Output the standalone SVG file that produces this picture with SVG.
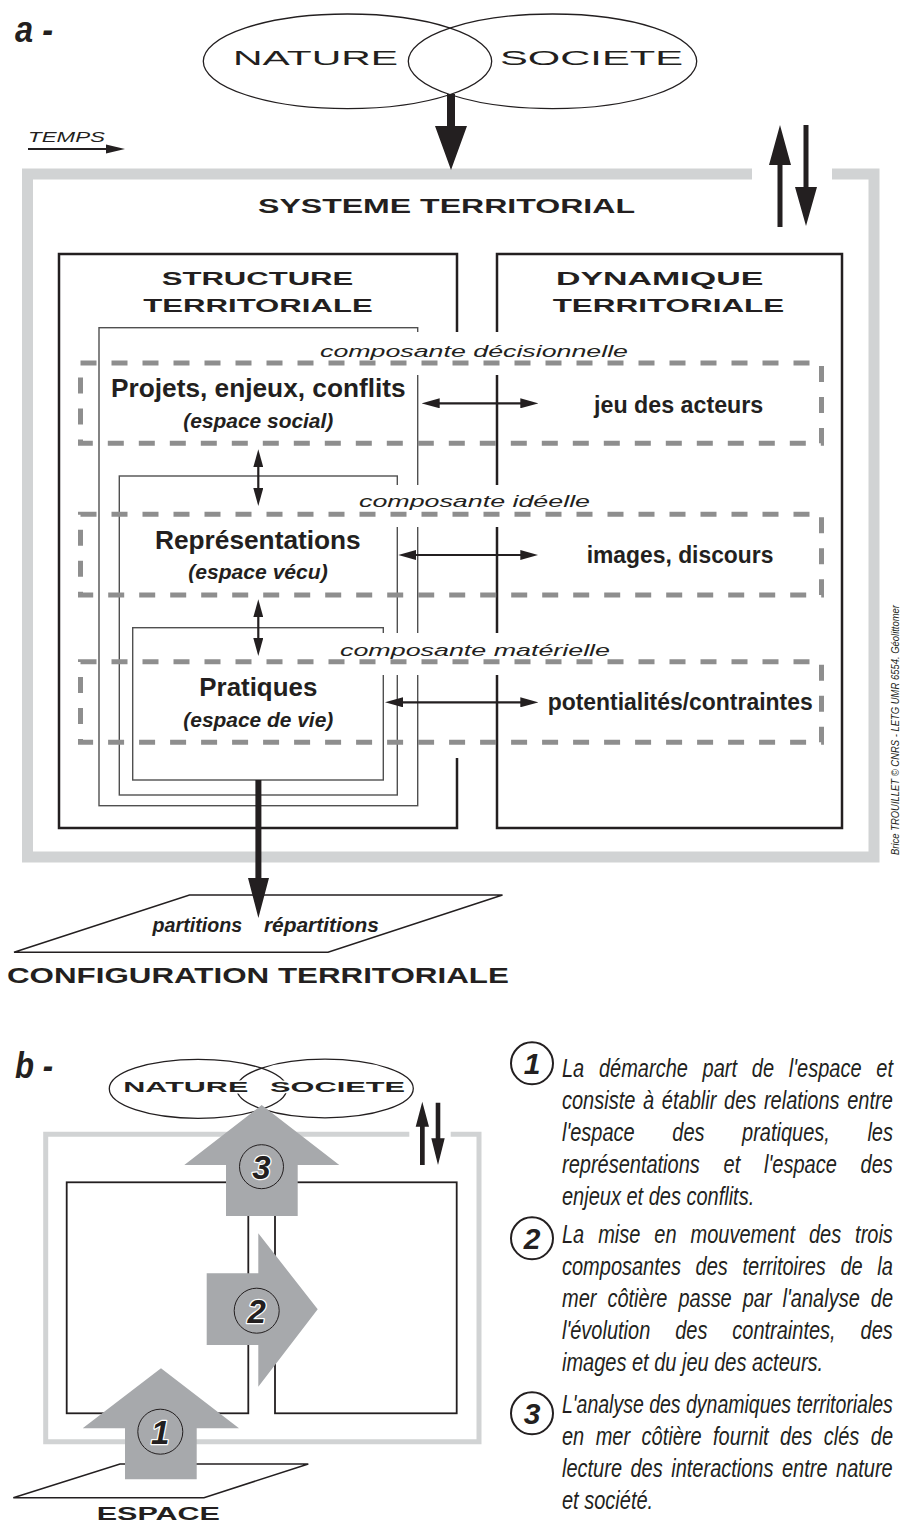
<svg xmlns="http://www.w3.org/2000/svg" width="900" height="1524" viewBox="0 0 900 1524">
<defs>
<style>
text { font-family: "Liberation Sans", Arial, Helvetica, sans-serif; fill:#231f20; }
.b { font-weight:bold; }
.i { font-style:italic; }
.frameA { fill:none; stroke:#d1d3d4; stroke-width:11; }
.frameB { fill:none; stroke:#d1d3d4; stroke-width:5; }
.box { fill:none; stroke:#231f20; stroke-width:2.5; }
.boxb { fill:none; stroke:#231f20; stroke-width:1.8; }
.thin { fill:none; stroke:#505050; stroke-width:1.4; }
.dash { fill:none; stroke:#8e8e8e; stroke-width:5; stroke-dasharray:16 15; }
.ell { fill:none; stroke:#231f20; stroke-width:1.3; }
.arr { fill:none; stroke:#231f20; stroke-width:2.2; marker-start:url(#ah); marker-end:url(#ah); }
.blk { fill:#231f20; }
.gray { fill:#a7a9ac; }
.halo { stroke:#ffffff; stroke-width:3; paint-order:stroke; stroke-linejoin:round; }
.numc { fill:none; stroke:#231f20; stroke-width:1; }
.numh { stroke:#ffffff; stroke-width:2.5; paint-order:stroke; stroke-linejoin:round; }
.cir { fill:none; stroke:#231f20; stroke-width:2; }
.wb { fill:#ffffff; }
.para { font-style:italic; font-size:25px; }
</style>
<marker id="ah" viewBox="0 0 18 10" refX="10" refY="5" markerWidth="18" markerHeight="10" markerUnits="userSpaceOnUse" orient="auto-start-reverse">
<path d="M0,0 L18,5 L0,10 z" fill="#231f20"/>
</marker>
</defs>

<!-- ===== PART A ===== -->
<g id="label-a"><text x="15" y="42" class="b i" font-size="36" textLength="38" lengthAdjust="spacingAndGlyphs">a -</text></g>

<g id="nature-societe-a">
<ellipse cx="347.5" cy="61.3" rx="144.2" ry="47.3" class="ell"/>
<ellipse cx="552.5" cy="61.3" rx="144.2" ry="47.3" class="ell"/>
<text x="233" y="65" font-size="21" textLength="165" lengthAdjust="spacingAndGlyphs">NATURE</text>
<text x="500" y="65" font-size="21" textLength="183" lengthAdjust="spacingAndGlyphs">SOCIETE</text>
</g>

<g id="temps">
<text x="28" y="142" class="i" font-size="15" textLength="77" lengthAdjust="spacingAndGlyphs">TEMPS</text>
<line x1="28" y1="149" x2="108" y2="149" stroke="#231f20" stroke-width="2"/>
<polygon points="106,144.5 125,149 106,153.5" class="blk"/>
</g>

<g id="systeme-territorial">
<path d="M752,174 H27.5 V857 H874 V174 H832" class="frameA"/>
<text x="258" y="213" class="b" font-size="20" textLength="377" lengthAdjust="spacingAndGlyphs">SYSTEME TERRITORIAL</text>
</g>

<g id="structure-territoriale">
<path d="M457,332 V254 H59 V828 H457 V758" class="box"/>
<text x="161.7" y="285" class="b" font-size="19" textLength="191.6" lengthAdjust="spacingAndGlyphs">STRUCTURE</text>
<text x="143.3" y="311.7" class="b" font-size="19" textLength="229.4" lengthAdjust="spacingAndGlyphs">TERRITORIALE</text>
<rect x="99" y="327.7" width="318.7" height="478" class="thin"/>
<rect x="119.3" y="476" width="278" height="319" class="thin"/>
<rect x="132.7" y="627.7" width="250.6" height="152.3" class="thin"/>
</g>

<g id="dynamique-territoriale">
<rect x="497" y="254" width="345" height="574" class="box"/>
<text x="556" y="285" class="b" font-size="19" textLength="207.3" lengthAdjust="spacingAndGlyphs">DYNAMIQUE</text>
<text x="552.7" y="311.7" class="b" font-size="19" textLength="231.6" lengthAdjust="spacingAndGlyphs">TERRITORIALE</text>
</g>

<g id="label-backgrounds">
<rect x="300" y="332" width="350" height="43" class="wb"/>
<rect x="340" y="485" width="280" height="42" class="wb"/>
<rect x="330" y="633" width="300" height="42" class="wb"/>
</g>

<g id="composante-decisionnelle">
<rect x="80.5" y="363" width="741" height="80.3" class="dash"/>
<text x="320" y="356.7" class="i" font-size="17" textLength="308" lengthAdjust="spacingAndGlyphs">composante décisionnelle</text>
<text x="111" y="396.7" class="b" font-size="25" textLength="294.7" lengthAdjust="spacingAndGlyphs">Projets, enjeux, conflits</text>
<text x="183.3" y="428.3" class="b i" font-size="21" textLength="150" lengthAdjust="spacingAndGlyphs">(espace social)</text>
<text x="594" y="413.3" class="b" font-size="23.5" textLength="169.3" lengthAdjust="spacingAndGlyphs">jeu des acteurs</text>
</g>

<g id="composante-ideelle">
<rect x="80.5" y="514.3" width="741" height="80.7" class="dash"/>
<text x="359" y="506.7" class="i" font-size="17" textLength="231" lengthAdjust="spacingAndGlyphs">composante idéelle</text>
<text x="155" y="549.3" class="b" font-size="26" textLength="205.7" lengthAdjust="spacingAndGlyphs">Représentations</text>
<text x="188.3" y="579.3" class="b i" font-size="21" textLength="139.4" lengthAdjust="spacingAndGlyphs">(espace vécu)</text>
<text x="586.7" y="562.7" class="b" font-size="23" textLength="186.7" lengthAdjust="spacingAndGlyphs">images, discours</text>
</g>

<g id="composante-materielle">
<rect x="80.5" y="661.7" width="741" height="80.6" class="dash"/>
<text x="340" y="655.7" class="i" font-size="17" textLength="270" lengthAdjust="spacingAndGlyphs">composante matérielle</text>
<text x="199.3" y="696" class="b" font-size="26" textLength="118" lengthAdjust="spacingAndGlyphs">Pratiques</text>
<text x="183.3" y="726.7" class="b i" font-size="21" textLength="150" lengthAdjust="spacingAndGlyphs">(espace de vie)</text>
<text x="547.7" y="710" class="b" font-size="23" textLength="265" lengthAdjust="spacingAndGlyphs">potentialités/contraintes</text>
</g>

<g id="configuration-territoriale">
<polygon points="189.5,895 502.5,895 328,952.3 14,952.3" fill="#ffffff" stroke="#231f20" stroke-width="1.5"/>
<text class="b i" font-size="21" y="932"><tspan x="152.6" textLength="95" lengthAdjust="spacingAndGlyphs">partitions </tspan><tspan x="263.9" textLength="115" lengthAdjust="spacingAndGlyphs">répartitions</tspan></text>
<text x="7" y="982.8" class="b" font-size="22" textLength="501.8" lengthAdjust="spacingAndGlyphs">CONFIGURATION TERRITORIALE</text>
</g>

<g id="credit">
<text transform="translate(899,855) rotate(-90)" class="i" font-size="10" textLength="250" lengthAdjust="spacingAndGlyphs">Brice TROUILLET © CNRS - LETG UMR 6554. Géolittomer</text>
</g>

<g id="connectors-a">
<polygon points="447,94 455,94 455,126 467,126 451,170 435,126 447,126" class="blk"/>
<polygon points="777.5,227 782.5,227 782.5,165 791,165 780,125 769,165 777.5,165" class="blk"/>
<polygon points="803.5,125 808.5,125 808.5,187 817,187 806,226 795,187 803.5,187" class="blk"/>
<line x1="258.3" y1="457.3" x2="258.3" y2="498" class="arr"/>
<line x1="258.3" y1="607.3" x2="258.3" y2="648" class="arr"/>
<line x1="429.7" y1="403.3" x2="530.3" y2="403.3" class="arr"/>
<line x1="406.3" y1="555" x2="530.3" y2="555" class="arr"/>
<line x1="393" y1="702.3" x2="530.3" y2="702.3" class="arr"/>
<polygon points="255.4,780 261.4,780 261.4,878 269,878 258.4,918 248,878 255.4,878" class="blk"/>
</g>

<!-- ===== PART B ===== -->
<g id="label-b"><text x="15" y="1078" class="b i" font-size="36" textLength="38" lengthAdjust="spacingAndGlyphs">b -</text></g>

<g id="nature-societe-b">
<ellipse cx="198" cy="1088.8" rx="88.7" ry="29.5" class="ell"/>
<ellipse cx="325" cy="1088.5" rx="88.3" ry="29.3" class="ell"/>
<text x="123.3" y="1091.7" class="b halo" font-size="15" textLength="125" lengthAdjust="spacingAndGlyphs">NATURE</text>
<text x="270" y="1091.7" class="b halo" font-size="15" textLength="135" lengthAdjust="spacingAndGlyphs">SOCIETE</text>
</g>

<g id="systeme-b">
<path d="M409.3,1134.3 H45.7 V1441.7 H479 V1134.3 H450.7" class="frameB"/>
<rect x="66.7" y="1182.3" width="181.6" height="231" class="boxb"/>
<rect x="275" y="1182.3" width="181.7" height="231" class="boxb"/>
</g>

<g id="espace-b">
<polygon points="120,1464 308.3,1464 204,1497.7 13.3,1497.7" fill="none" stroke="#231f20" stroke-width="1.5"/>
<text x="96.7" y="1520" class="b" font-size="17.6" textLength="123.3" lengthAdjust="spacingAndGlyphs">ESPACE</text>
</g>

<g id="connectors-b">
<polygon points="420,1165 424.7,1165 424.7,1126.7 429,1126.7 422.3,1101.7 415.7,1126.7 420,1126.7" class="blk"/>
<polygon points="435.7,1102.7 440.3,1102.7 440.3,1138.3 444.7,1138.3 438,1165 431.3,1138.3 435.7,1138.3" class="blk"/>
</g>

<g id="step-3">
<polygon points="261.7,1105 339.3,1165 297.7,1165 297.7,1216 226,1216 226,1165 184.3,1165" class="gray"/>
<circle cx="261.5" cy="1166.7" r="22" class="numc"/>
<text x="261.5" y="1178.7" text-anchor="middle" class="b i numh" font-size="33">3</text>
</g>

<g id="step-2">
<polygon points="206.7,1273.3 258.3,1273.3 258.3,1233.3 317.7,1309.3 258.3,1386.7 258.3,1345 206.7,1345" class="gray"/>
<circle cx="256.7" cy="1310.7" r="22.5" class="numc"/>
<text x="256.7" y="1322.7" text-anchor="middle" class="b i numh" font-size="33">2</text>
</g>

<g id="step-1">
<polygon points="161,1368.3 239,1428.3 196.7,1428.3 196.7,1479.3 125,1479.3 125,1428.3 82.7,1428.3" class="gray"/>
<circle cx="160.3" cy="1431.7" r="22.5" class="numc"/>
<text x="160.3" y="1443.7" text-anchor="middle" class="b i numh" font-size="33">1</text>
</g>

<g id="legend-1">
<circle cx="532" cy="1063.3" r="21" class="cir"/>
<text x="532" y="1074.3" text-anchor="middle" class="b i" font-size="30">1</text>
<text transform="translate(562,1077) scale(0.8,1)" class="para" word-spacing="11.5">La démarche part de l'espace et</text>
<text transform="translate(562,1109) scale(0.8,1)" class="para" word-spacing="2.7">consiste à établir des relations entre</text>
<text transform="translate(562,1141) scale(0.8,1)" class="para" word-spacing="40">l'espace des pratiques, les</text>
<text transform="translate(562,1173) scale(0.8,1)" class="para" word-spacing="22.8">représentations et l'espace des</text>
<text transform="translate(562,1205) scale(0.8,1)" class="para">enjeux et des conflits.</text>
</g>

<g id="legend-2">
<circle cx="532" cy="1238.3" r="21" class="cir"/>
<text x="532" y="1249.3" text-anchor="middle" class="b i" font-size="30">2</text>
<text transform="translate(562,1243) scale(0.8,1)" class="para" word-spacing="10.5">La mise en mouvement des trois</text>
<text transform="translate(562,1275) scale(0.8,1)" class="para" word-spacing="11.4">composantes des territoires de la</text>
<text transform="translate(562,1307) scale(0.8,1)" class="para" word-spacing="6.8">mer côtière passe par l'analyse de</text>
<text transform="translate(562,1339) scale(0.8,1)" class="para" word-spacing="24.2">l'évolution des contraintes, des</text>
<text transform="translate(562,1371) scale(0.8,1)" class="para">images et du jeu des acteurs.</text>
</g>

<g id="legend-3">
<circle cx="532" cy="1413.3" r="21" class="cir"/>
<text x="532" y="1424.3" text-anchor="middle" class="b i" font-size="30">3</text>
<text transform="translate(562,1413) scale(0.78,1)" class="para">L'analyse des dynamiques territoriales</text>
<text transform="translate(562,1445) scale(0.8,1)" class="para" word-spacing="7.4">en mer côtière fournit des clés de</text>
<text transform="translate(562,1477) scale(0.8,1)" class="para" word-spacing="3.7">lecture des interactions entre nature</text>
<text transform="translate(562,1509) scale(0.8,1)" class="para">et société.</text>
</g>
</svg>
